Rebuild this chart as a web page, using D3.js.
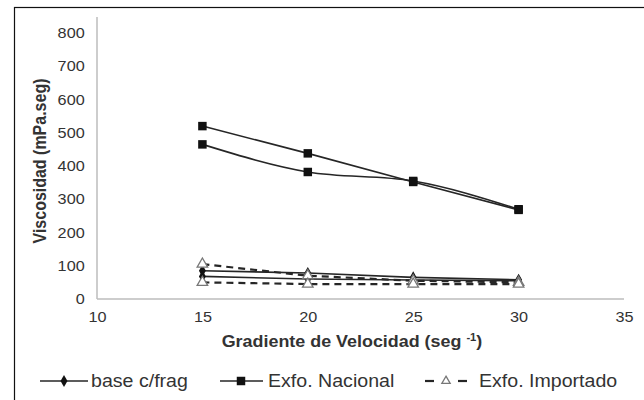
<!DOCTYPE html>
<html>
<head>
<meta charset="utf-8">
<script src="https://cdn.jsdelivr.net/npm/d3@7"></script>
<style>
  html, body { margin: 0; padding: 0; background: #fff; }
  svg { display: block; font-family: "Liberation Sans", Arial, sans-serif; }
</style>
</head>
<body>
<div id="chart"></div>
<script>
// chart values
const xValues = [15, 20, 25, 30];
const baseFragA = [85, 78, 65, 58];
const baseFragB = [68, 60, 57, 55];
const nacionalA = [520, 438, 352, 268];
const nacionalB = [465, 382, 355, 270];
const importadoA = [105, 70, 55, 50];
const importadoB = [50, 45, 45, 45];
const xTicks = [10, 15, 20, 25, 30, 35];
const yTicks = [0, 100, 200, 300, 400, 500, 600, 700, 800];
const legendLabels = ["base c/frag", "Exfo. Nacional", "Exfo. Importado"];

const CHART_CONFIG = {
    width: 644,
    height: 400,
    plotLeft: 97,
    plotRight: 624,
    plotTop: 17,
    plotBottom: 299,
    yTop: 33,
    stretch: 1.12, // the picture is a bit wider than tall
    textColor: "#333",
    axisColor: "#bdbdbd",
    lineColor: "#262626",
};

const width = CHART_CONFIG.width;
const height = CHART_CONFIG.height;

const svg = d3.select("#chart").append("svg")
    .attr("width", width)
    .attr("height", height);

// outer frame (right/bottom edges fall outside the picture)
svg.append("rect")
    .attr("x", 14.5).attr("y", 7.5)
    .attr("width", 700).attr("height", 500)
    .attr("fill", "none").attr("stroke", "#111").attr("stroke-width", 1.2);

const x = d3.scaleLinear().domain([10, 35]).range([CHART_CONFIG.plotLeft, CHART_CONFIG.plotRight]);
const y = d3.scaleLinear().domain([0, 800]).range([CHART_CONFIG.plotBottom, CHART_CONFIG.yTop]);

// axis lines
svg.append("line")
    .attr("x1", CHART_CONFIG.plotLeft).attr("x2", CHART_CONFIG.plotLeft)
    .attr("y1", CHART_CONFIG.plotTop).attr("y2", y(0))
    .attr("stroke", CHART_CONFIG.axisColor).attr("stroke-width", 1.5);
svg.append("line")
    .attr("x1", x(10)).attr("x2", x(35))
    .attr("y1", y(0)).attr("y2", y(0))
    .attr("stroke", CHART_CONFIG.axisColor).attr("stroke-width", 1.5);

const sx = CHART_CONFIG.stretch;

svg.append("g")
    .attr("transform", `translate(${CHART_CONFIG.plotLeft},0)`)
    .call(d3.axisLeft(y).tickValues(yTicks).tickSize(0).tickPadding(11))
    .call((g) => g.select(".domain").remove())
    .call((g) => g.selectAll("text")
        .attr("font-size", 14.5)
        .attr("font-family", "Liberation Sans, Arial, sans-serif")
        .attr("fill", CHART_CONFIG.textColor)
        .attr("transform", `scale(${sx},1)`));

svg.append("g")
    .attr("transform", `translate(0,${y(0)})`)
    .call(d3.axisBottom(x).tickValues(xTicks).tickSize(0).tickPadding(13))
    .call((g) => g.select(".domain").remove())
    .call((g) => g.selectAll("text")
        .attr("font-size", 14.5)
        .attr("font-family", "Liberation Sans, Arial, sans-serif")
        .attr("fill", CHART_CONFIG.textColor)
        .attr("transform", `scale(${sx},1)`));

// axis titles
const xTitle = svg.append("text")
    .attr("transform", `translate(352,347) scale(${sx},1)`)
    .attr("text-anchor", "middle")
    .attr("font-size", 16)
    .attr("font-weight", "bold")
    .attr("fill", CHART_CONFIG.textColor);
xTitle.append("tspan").text("Gradiente de Velocidad (seg ");
xTitle.append("tspan").attr("font-size", 10).attr("dy", -6).text("-1");
xTitle.append("tspan").attr("dy", 6).text(")");

svg.append("text")
    .attr("transform", `translate(46,161) rotate(-90) scale(1,${sx})`)
    .attr("text-anchor", "middle")
    .attr("font-size", 16)
    .attr("font-weight", "bold")
    .attr("fill", CHART_CONFIG.textColor)
    .text("Viscosidad (mPa.seg)");

// series
const series = [
    { values: baseFragA, kind: 0, dash: null, curve: d3.curveLinear },
    { values: baseFragB, kind: 0, dash: null, curve: d3.curveLinear },
    { values: nacionalA, kind: 1, dash: null, curve: d3.curveLinear },
    { values: nacionalB, kind: 1, dash: null, curve: d3.curveMonotoneX },
    { values: importadoA, kind: 2, dash: "7,5", curve: d3.curveLinear },
    { values: importadoB, kind: 2, dash: "7,5", curve: d3.curveLinear },
];

const symbols = [
    d3.symbol().type(d3.symbolDiamond).size(42),
    d3.symbol().type(d3.symbolSquare).size(72),
    d3.symbol().type(d3.symbolTriangle).size(48),
];

function styleMarker(sel, kind) {
    if (kind === 2) {
        sel.attr("fill", "#fff").attr("stroke", "#777").attr("stroke-width", 1.3);
    } else {
        sel.attr("fill", "#111").attr("stroke", "none");
    }
}

series.forEach((s) => {
    const pts = xValues.map((xv, i) => [xv, s.values[i]]);
    const line = d3.line().x((d) => x(d[0])).y((d) => y(d[1])).curve(s.curve);
    svg.append("path")
        .attr("d", line(pts))
        .attr("fill", "none")
        .attr("stroke", CHART_CONFIG.lineColor)
        .attr("stroke-width", s.kind === 2 ? 2.2 : 1.6)
        .attr("stroke-dasharray", s.dash);
});

series.forEach((s) => {
    const pts = xValues.map((xv, i) => [xv, s.values[i]]);
    svg.append("g").selectAll("path")
        .data(pts)
        .join("path")
        .attr("d", symbols[s.kind])
        .attr("transform", (d) => `translate(${x(d[0])},${y(d[1])})`)
        .call(styleMarker, s.kind);
});

// legend
const legendY = 381;
const legendItems = [
    { x0: 40, x1: 88, mark: 64, textX: 91, kind: 0 },
    { x0: 220, x1: 263, mark: 241, textX: 268, kind: 1 },
    { x0: 425, x1: 467, mark: 446, textX: 479, kind: 2 },
];

legendItems.forEach((item, i) => {
    const g = svg.append("g");
    if (item.kind === 2) {
        // "- ▲ -" : two short dashes either side of the marker
        [[item.x0, item.x0 + 9], [item.x1 - 9, item.x1]].forEach(([a, b]) => {
            g.append("line")
                .attr("x1", a).attr("x2", b)
                .attr("y1", legendY).attr("y2", legendY)
                .attr("stroke", CHART_CONFIG.lineColor)
                .attr("stroke-width", 2.2);
        });
    } else {
        g.append("line")
            .attr("x1", item.x0).attr("x2", item.x1)
            .attr("y1", legendY).attr("y2", legendY)
            .attr("stroke", CHART_CONFIG.lineColor)
            .attr("stroke-width", 1.6);
    }
    g.append("path")
        .attr("d", item.kind === 2 ? d3.symbol().type(d3.symbolTriangle).size(30)() : symbols[item.kind]())
        .attr("transform", `translate(${item.mark},${legendY})`)
        .call(styleMarker, item.kind);
    g.append("text")
        .attr("transform", `translate(${item.textX},${legendY + 6}) scale(${sx},1)`)
        .attr("font-size", 17.5)
        .attr("fill", CHART_CONFIG.textColor)
        .text(legendLabels[i]);
});
</script>
</body>
</html>
